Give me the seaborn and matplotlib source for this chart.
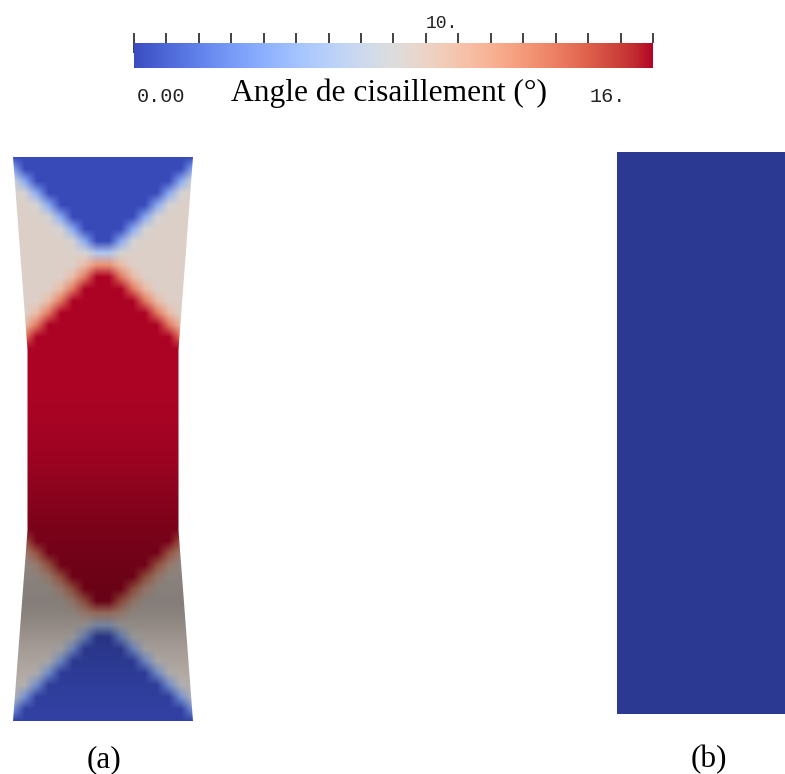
import numpy as np
import matplotlib
matplotlib.use("Agg")
import matplotlib.pyplot as plt
from matplotlib.colors import Normalize
from matplotlib.patches import Polygon
from matplotlib.ticker import FixedLocator
import seaborn as sns

# colour bar: shear angle range (degrees)
angle_min, angle_max = 0.0, 16.0
major_ticks = [0, 10]
major_labels = ["", "10."]
minor_ticks = list(range(0, 17))
range_labels = ["0.00", "16."]
cbar_title = "Angle de cisaillement (°)"
panel_labels = ["(a)", "(b)"]

# specimen (a): shear angle read on a 16 x 48 node grid, one char per node
# "0".."9" = 0-9 deg, "a".."g" = 10-16 deg, "s" = side zones (~8.5 deg)
# left half only, the right half is mirrored
level_chars = "0123456789abcdefgs"
level_values = [0, 1, 2, 3, 4, 5, 6, 7, 8, 9, 10, 11, 12, 13, 14, 15, 16, 8.5]
field_a_half = [
    "00000000",
    "40000000",
    "84000000",
    "s8400000",
    "ss840000",
    "sss84000",
    "ssss8400",
    "sssss840",
    "ssssss86",
    "ssssssac",
    "sssssadg",
    "ssssadgg",
    "sssadggg",
    "ssadgggg",
    "sadggggg",
    "adgggggg",
    "dggggggg",
    "gggggggg",
    "gggggggg",
    "gggggggg",
    "gggggggg",
    "gggggggg",
    "gggggggg",
    "gggggggg",
    "gggggggg",
    "gggggggg",
    "gggggggg",
    "gggggggg",
    "gggggggg",
    "gggggggg",
    "gggggggg",
    "dggggggg",
    "adgggggg",
    "sadggggg",
    "ssadgggg",
    "sssadggg",
    "ssssadgg",
    "sssssadg",
    "ssssssab",
    "ssssss86",
    "sssss840",
    "ssss8400",
    "sss84000",
    "ss840000",
    "s8400000",
    "84000000",
    "40000000",
    "00000000",
]
# brightness of the rendering for each grid row (darker lower half)
shade_a = [0.96] * 20 + [0.95, 0.94, 0.93, 0.91, 0.89, 0.87, 0.84, 0.8, 0.77, 0.74,
                         0.71, 0.68, 0.66, 0.64, 0.62, 0.6, 0.59, 0.58, 0.6, 0.64,
                         0.68, 0.72, 0.75, 0.78, 0.8, 0.82, 0.84, 0.85]

# specimen (b): undeformed, no shear
field_b = [[0.0]]
shade_b = 0.76

# layout (pixels)
W, H = 785, 774
cx = 103
outline_y = [157, 350, 530, 721]
outline_halfw = [90, 75.5, 75.5, 90]

sns.set_style("white")
plt.rcParams["font.family"] = ["Liberation Serif", "DejaVu Serif"]

cmap = sns.color_palette("coolwarm", as_cmap=True)
norm = Normalize(angle_min, angle_max)

to_deg = dict(zip(level_chars, level_values))
grid_a = np.array([[to_deg[ch] for ch in row + row[::-1]] for row in field_a_half], dtype=float)
rgb_a = cmap(norm(grid_a))
rgb_a[..., :3] *= np.array(shade_a)[:, None, None]

rgb_b = cmap(norm(np.array(field_b)))
rgb_b[..., :3] *= shade_b

fig = plt.figure(figsize=(W / 100, H / 100), dpi=100)
ax = fig.add_axes([0, 0, 1, 1])

im = ax.imshow(rgb_a, extent=(7, 199, 727, 151), interpolation="bilinear", aspect="auto")
xs = [cx - w for w in outline_halfw] + [cx + w for w in outline_halfw[::-1]]
ys = outline_y + outline_y[::-1]
clip = Polygon(np.column_stack([xs, ys]), closed=True, transform=ax.transData)
im.set_clip_path(clip)

ax.imshow(rgb_b, extent=(617, 785, 714, 152), interpolation="nearest", aspect="auto")

ax.set_xlim(0, W)
ax.set_ylim(H, 0)
ax.axis("off")

ax.text(103.5, 767, panel_labels[0], size=22.5, ha="center", va="baseline", color="black")
ax.text(708.5, 767, panel_labels[1], size=22.5, ha="center", va="baseline", color="black")
ax.text(137, 101.5, range_labels[0], family="Liberation Mono", size=14.5,
        ha="left", va="baseline", color="#222222")
ax.text(626, 101.5, range_labels[1], family="Liberation Mono", size=14.5,
        ha="right", va="baseline", color="#222222")

# colour bar
cax = fig.add_axes([134 / W, 1 - 68 / H, 519 / W, 25 / H])
sm = plt.cm.ScalarMappable(norm=norm, cmap=cmap)
cb = fig.colorbar(sm, cax=cax, orientation="horizontal")
cb.outline.set_visible(False)
cb.set_ticks(major_ticks, labels=major_labels)
cax.xaxis.set_minor_locator(FixedLocator(minor_ticks))
cax.xaxis.set_ticks_position("top")
cax.tick_params(axis="x", which="major", direction="inout", length=15, width=1.3,
                color="#333333", pad=0.5, labelsize=13, labelcolor="#222222")
cax.tick_params(axis="x", which="minor", direction="out", length=7.5, width=1.3,
                color="#333333")
for lbl in cax.get_xticklabels():
    lbl.set_fontfamily("Liberation Mono")
    lbl.set_horizontalalignment("right")
cax.xaxis.set_label_position("bottom")
cb.set_label(cbar_title, size=22.7, color="black")
cax.xaxis.set_label_coords((389 - 134) / 519, -(101 - 68) / 25)
cax.xaxis.label.set_verticalalignment("baseline")

fig.savefig("out.png", dpi=100)
